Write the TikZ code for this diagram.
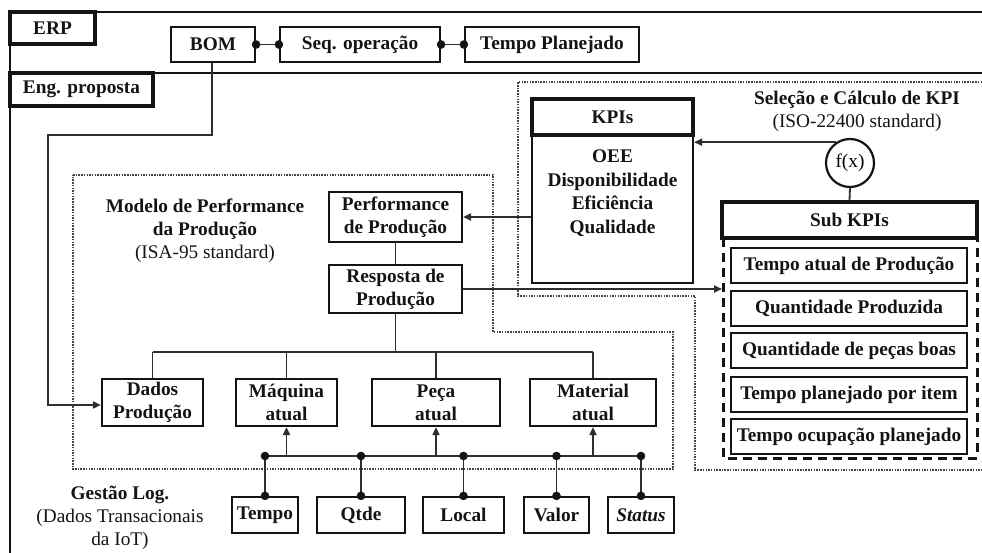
\documentclass[tikz,border=0pt]{standalone}
\usepackage{fontspec}
\setmainfont{Liberation Serif}
\usetikzlibrary{arrows.meta,calc}
\definecolor{ink}{HTML}{141414}
\definecolor{wirec}{HTML}{2E2E2E}
\definecolor{dotc}{HTML}{444444}
\tikzset{
  txt/.style={font=\fontsize{19.3}{23}\selectfont, text=ink, align=center, inner sep=0pt},
  box/.style={txt, font=\bfseries\fontsize{19.3}{23}\selectfont, draw=ink, line width=2.2pt, fill=white, inner sep=1pt},
  hbox/.style={box, line width=4.2pt},
  wire/.style={draw=wirec, line width=1.8pt},
  arr/.style={wire, -{Triangle[length=8pt,width=7pt]}},
  dotline/.style={draw=dotc, line width=2.3pt, dash pattern=on 1.5pt off 1.2pt},
  frame/.style={draw=ink, line width=2.8pt},
}
\newcommand{\jdot}[1]{\fill[ink] (#1) circle (4.3pt);}
\begin{document}
\begin{tikzpicture}[x=1pt, y=-1pt]
\useasboundingbox[fill=white] (0,0) rectangle (982,553);

% ---- outer frame lines (ERP band and proposed engineering area)
\draw[frame] (982,12) -- (10,12) -- (10,553);
\draw[frame] (10,73) -- (982,73);

% ---- dotted groups
\draw[dotline] (73,175) -- (493,175) -- (493,332) -- (673,332) -- (673,469) -- (73,469) -- cycle;
\draw[dotline] (982,82) -- (518,82) -- (518,296) -- (695,296) -- (695,470) -- (982,470);

% ---- ERP band
\node[hbox, minimum width=85, minimum height=32] (erp) at (52.5,28) {ERP};
\node[box, minimum width=84, minimum height=35] (bom) at (213,44.5) {BOM};
\node[box, minimum width=160, minimum height=35] (seq) at (360,44.5) {Seq. operação};
\node[box, minimum width=174, minimum height=35] (tplan) at (552,44.5) {Tempo Planejado};
\node[hbox, minimum width=143, minimum height=33] (eng) at (81.5,89.5) {Eng. proposta};

\draw[wire] (bom.east) -- (seq.west);
\draw[wire] (seq.east) -- (tplan.west);
\jdot{bom.east}\jdot{seq.west}\jdot{seq.east}\jdot{tplan.west}

% ---- performance model
\node[txt] (modelo) at (205,231) {\textbf{Modelo de Performance}\\\textbf{da Produção}\\(ISA-95 standard)};
\node[box, minimum width=133, minimum height=50] (perf) at (395.5,217) {Performance\\de Produção};
\node[box, minimum width=133, minimum height=48] (resp) at (395.5,289) {Resposta de\\Produção};

\node[box, minimum width=101, minimum height=47] (dados) at (152.5,402.5) {Dados\\Produção};
\node[box, minimum width=101, minimum height=47] (maq) at (286.5,402.5) {Máquina\\atual};
\node[box, minimum width=128, minimum height=47] (peca) at (436,402.5) {Peça\\atual};
\node[box, minimum width=126, minimum height=47] (mat) at (593,402.5) {Material\\atual};

\draw[wire] (perf.south) -- (resp.north);
\coordinate (busA) at (395.5,352);
\draw[wire] (resp.south) -- (busA);
\draw[wire] (dados.north |- busA) -- (mat.north |- busA);
\foreach \b in {dados,maq,peca,mat}
  \draw[wire] (\b.north |- busA) -- (\b.north);

% ---- BOM feed into production data
\coordinate (bomturn) at (212,135);
\coordinate (leftrun) at (48,135);
\draw[arr] (bom.south -| bomturn) -- (bomturn) -- (leftrun) -- (48,405) -- (dados.west |- 0,405);

% ---- logistics management (IoT transactional data)
\node[txt] (gestao) at (120,518) {\textbf{Gestão Log.}\\(Dados Transacionais\\da IoT)};
\node[box, minimum width=66, minimum height=36] (tempo) at (265,515) {Tempo};
\node[box, minimum width=88, minimum height=36] (qtde) at (361,515) {Qtde};
\node[box, minimum width=81, minimum height=36] (local) at (463.5,515) {Local};
\node[box, minimum width=65, minimum height=36] (valor) at (556.5,515) {Valor};
\node[box, minimum width=66, minimum height=36] (status) at (641,515) {\textit{Status}};

\coordinate (busB) at (0,456);
\draw[wire] (tempo.north |- busB) -- (status.north |- busB);
\foreach \b in {tempo,qtde,local,valor,status}{
  \draw[wire] (\b.north |- busB) -- (\b.north);
  \jdot{\b.north |- busB}\jdot{\b.north}
}
\draw[arr] (maq.south |- busB) -- (maq.south);
\draw[arr] (peca.south |- busB) -- (peca.south);
\draw[arr] (mat.south |- busB) -- (mat.south);

% ---- KPI selection and calculation
\node[txt] (selecao) at (857,111) {\textbf{Seleção e Cálculo de KPI}\\(ISO-22400 standard)};
\node[box, minimum width=161, minimum height=148] (kpibody) at (612.5,209) {};
\node[hbox, minimum width=161, minimum height=36] (kpihead) at (612.5,117) {KPIs};
\node[txt, font=\bfseries\fontsize{19.3}{23.5}\selectfont] (kpilist) at (612.5,193) {OEE\\Disponibilidade\\Eficiência\\Qualidade};

\node[draw=ink, line width=2.2pt, fill=white, circle, minimum size=48, inner sep=0pt,
      font=\fontsize{19.3}{23}\selectfont] (fx) at (850,163) {f(x)};
\node[hbox, minimum width=255, minimum height=36] (subkpi) at (849.5,220) {Sub KPIs};
\draw[wire] (fx.south) -- (subkpi.north);
\draw[arr] (fx.124) -- (fx.124 -| kpibody.east);

\draw[ink, line width=3pt, dash pattern=on 9pt off 6pt] (723,238) rectangle (977,458);
\coordinate (dboxw) at (722,300);
\node[box, minimum width=236, minimum height=35] (sk1) at (849,265.5) {Tempo atual de Produção};
\node[box, minimum width=236, minimum height=35] (sk2) at (849,308.5) {Quantidade Produzida};
\node[box, minimum width=236, minimum height=35] (sk3) at (849,350.5) {Quantidade de peças boas};
\node[box, minimum width=236, minimum height=35] (sk4) at (849,394.5) {Tempo planejado por item};
\node[box, minimum width=236, minimum height=35] (sk5) at (849,436.5) {Tempo ocupação planejado};

% ---- flows between the groups
\draw[arr] (perf.east -| kpibody.west) -- (perf.east);
\draw[arr] (resp.east) -- (resp.east -| dboxw);
\end{tikzpicture}
\end{document}
